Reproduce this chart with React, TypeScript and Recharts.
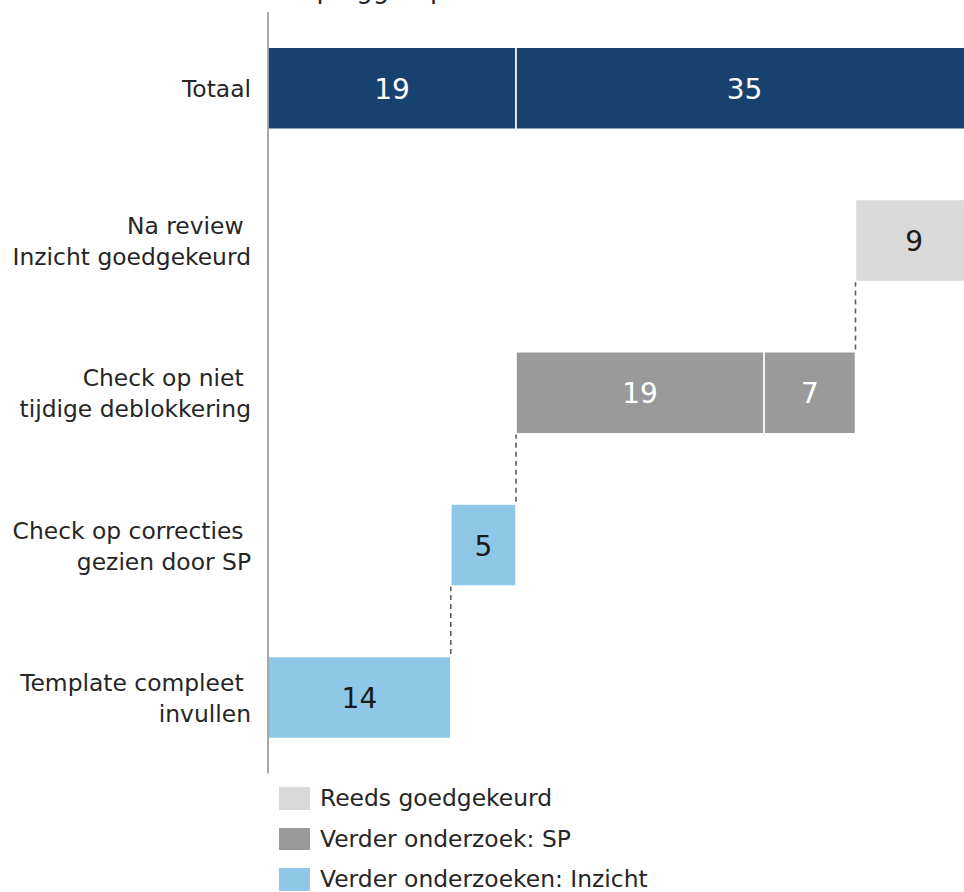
import React from 'react';
import { BarChart, Bar, XAxis, YAxis, Legend, LabelList } from 'recharts';

// ---- data ----
const categories = ['Totaal', 'Na review', 'Check op niet', 'Check op correcties', 'Template compleet'];
const categoryLines = [
  ['Totaal'],
  ['Na review ', 'Inzicht goedgekeurd'],
  ['Check op niet ', 'tijdige deblokkering'],
  ['Check op correcties ', 'gezien door SP'],
  ['Template compleet ', 'invullen'],
];
const offsets = [0, 45, 19, 14, 0];
const totaalInzicht = [19, null, null, null, null];
const totaalRest = [35, null, null, null, null];
const inzicht = [null, null, null, 5, 14];
const spFirst = [null, null, 19, null, null];
const spSecond = [null, null, 7, null, null];
const reeds = [null, 9, null, null, null];

const legendNames = ['Reeds goedgekeurd', 'Verder onderzoek: SP', 'Verder onderzoeken: Inzicht'];
const titleText = 'Overzicht opleggen per fase';

// ---- styles ----
const FONT = '"DejaVu Sans", Verdana, sans-serif';
const C_BLUE = '#17416f';
const C_SP = '#9a9a9a';
const C_REEDS = '#d9d9d9';
const C_INZICHT = '#8ec8e6';
const legendColors = [C_REEDS, C_SP, C_INZICHT];
const GAP = 0.231;
const TEXT_SIZE = 23.4;

const data = categories.map((c, i) => ({
  name: c,
  offset: offsets[i],
  totaalInzicht: totaalInzicht[i],
  totaalRest: totaalRest[i],
  inzicht: inzicht[i],
  spFirst: spFirst[i],
  spSecond: spSecond[i],
  reeds: reeds[i],
}));

const CategoryTick = (props: any) => {
  const { x, y, payload } = props;
  const idx = categories.indexOf(payload.value);
  const lines = categoryLines[idx] || [payload.value];
  const lh = 31;
  const start = -((lines.length - 1) * lh) / 2;
  return (
    <g>
      {lines.map((l, i) => (
        <text
          key={i}
          x={x - 9}
          y={y + start + i * lh + 1}
          textAnchor="end"
          dominantBaseline="central"
          fontFamily={FONT}
          fontSize={TEXT_SIZE}
          fill="#262626"
          style={{ whiteSpace: 'pre' }}
        >
          {l}
        </text>
      ))}
    </g>
  );
};

const OffsetShape = (props: any) => {
  const { x, y, width, height } = props;
  if (!width || width <= 0) return <g />;
  const gapPx = (height * 2 * GAP) / (1 - 2 * GAP);
  const xe = x + width;
  return (
    <line
      x1={xe}
      x2={xe}
      y1={y + height}
      y2={y + height + gapPx}
      stroke="#5e5e5e"
      strokeWidth={1.6}
      strokeDasharray="5 4"
    />
  );
};

const makeLabel = (color: string) => (props: any) => {
  const { x, y, width, height, value } = props;
  if (value === null || value === undefined || value === 0) return <g />;
  return (
    <text
      x={x + width / 2}
      y={y + height / 2 + 1}
      textAnchor="middle"
      dominantBaseline="central"
      fontFamily={FONT}
      fontSize={28}
      fill={color}
    >
      {value}
    </text>
  );
};

const LegendBox = () => (
  <div style={{ width: 420, height: 105, fontFamily: FONT, fontSize: TEXT_SIZE, color: '#262626' }}>
    {legendNames.map((n, i) => (
      <div key={n} style={{ display: 'flex', alignItems: 'center', height: 40.6 }}>
        <div style={{ width: 31, height: 22.5, background: legendColors[i], marginRight: 10 }} />
        <span style={{ whiteSpace: 'pre' }}>{n}</span>
      </div>
    ))}
  </div>
);

export default function App() {
  return (
    <div
      style={{
        position: 'absolute',
        left: 0,
        top: 0,
        width: 964,
        height: 892,
        overflow: 'hidden',
        background: '#fff',
      }}
    >
      <div
        style={{
          position: 'absolute',
          left: 168,
          top: -24,
          fontFamily: FONT,
          fontSize: 26,
          lineHeight: '26px',
          color: '#262626',
          whiteSpace: 'pre',
        }}
      >
        {titleText}
      </div>
      <BarChart
        width={973}
        height={892}
        data={data}
        layout="vertical"
        margin={{ top: 12, right: 0, bottom: 13.5, left: 0 }}
        barCategoryGap={`${GAP * 100}%`}
      >
        <XAxis type="number" domain={[0, 54]} hide />
        <YAxis
          type="category"
          dataKey="name"
          width={268}
          tick={<CategoryTick />}
          tickLine={false}
          axisLine={{ stroke: '#8c8c8c', strokeWidth: 1.5 }}
          interval={0}
        />
        <Legend
          verticalAlign="bottom"
          content={() => <LegendBox />}
          wrapperStyle={{ position: 'absolute', left: 279, top: 778, width: 420, height: 105 }}
        />
        <Bar dataKey="offset" stackId="a" fill="transparent" shape={<OffsetShape />} isAnimationActive={false} legendType="none" />
        <Bar dataKey="totaalInzicht" stackId="a" fill={C_BLUE} stroke="#fff" strokeWidth={1.5} isAnimationActive={false} legendType="none">
          <LabelList dataKey="totaalInzicht" content={makeLabel('#ffffff')} />
        </Bar>
        <Bar dataKey="totaalRest" stackId="a" fill={C_BLUE} stroke="#fff" strokeWidth={1.5} isAnimationActive={false} legendType="none">
          <LabelList dataKey="totaalRest" content={makeLabel('#ffffff')} />
        </Bar>
        <Bar dataKey="inzicht" stackId="a" fill={C_INZICHT} stroke="#fff" strokeWidth={1.5} isAnimationActive={false}>
          <LabelList dataKey="inzicht" content={makeLabel('#1a1a1a')} />
        </Bar>
        <Bar dataKey="spFirst" stackId="a" fill={C_SP} stroke="#fff" strokeWidth={1.5} isAnimationActive={false}>
          <LabelList dataKey="spFirst" content={makeLabel('#ffffff')} />
        </Bar>
        <Bar dataKey="spSecond" stackId="a" fill={C_SP} stroke="#fff" strokeWidth={1.5} isAnimationActive={false} legendType="none">
          <LabelList dataKey="spSecond" content={makeLabel('#ffffff')} />
        </Bar>
        <Bar dataKey="reeds" stackId="a" fill={C_REEDS} stroke="#fff" strokeWidth={1.5} isAnimationActive={false}>
          <LabelList dataKey="reeds" content={makeLabel('#1a1a1a')} />
        </Bar>
      </BarChart>
    </div>
  );
}
